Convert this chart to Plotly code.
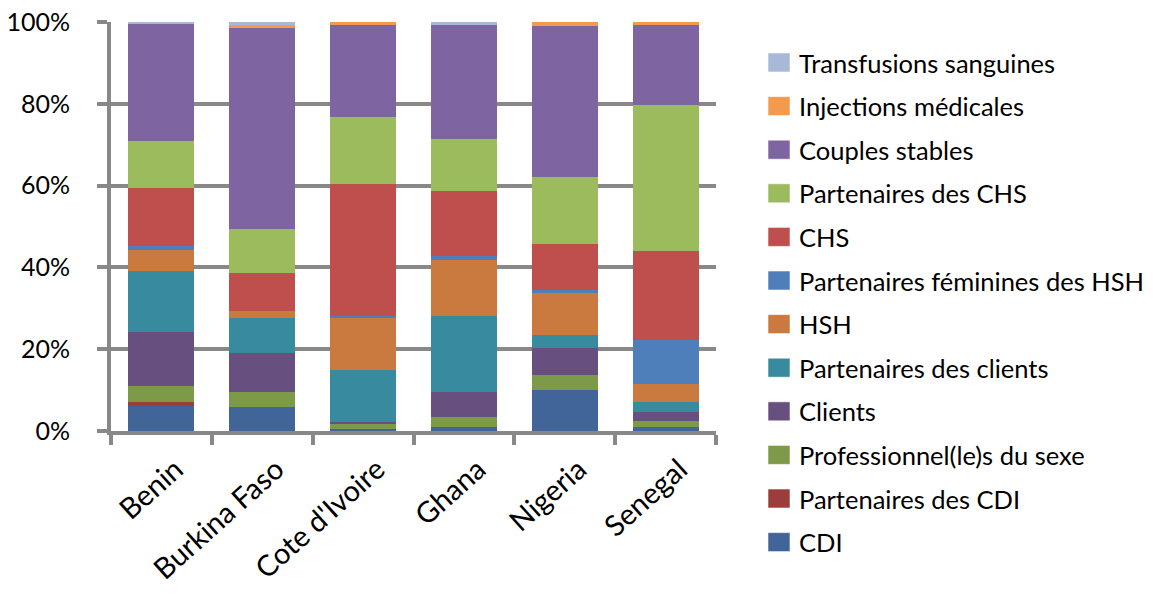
import plotly.graph_objects as go

# Countries on the x axis
countries = ["Benin", "Burkina Faso", "Cote d'Ivoire", "Ghana", "Nigeria", "Senegal"]

# Share of new infections by mode of transmission (%), one list per group
cdi = [6.0, 5.8, 0.5, 1.1, 10.0, 1.1]
partenaires_cdi = [1.0, 0.0, 0.0, 0.0, 0.0, 0.0]
professionnels_sexe = [3.9, 3.7, 1.2, 2.4, 3.7, 1.3]
clients = [13.2, 9.6, 0.6, 6.0, 6.7, 2.3]
partenaires_clients = [15.1, 8.6, 12.7, 18.7, 3.0, 2.3]
hsh = [5.0, 1.7, 12.7, 13.5, 10.3, 4.4]
partenaires_fem_hsh = [1.1, 0.0, 0.5, 1.0, 0.7, 10.9]
chs = [14.0, 9.2, 32.1, 16.0, 11.4, 21.6]
partenaires_chs = [11.5, 10.8, 16.5, 12.6, 16.4, 35.8]
couples_stables = [28.6, 49.1, 22.5, 28.0, 36.8, 19.6]
injections = [0.0, 0.7, 0.7, 0.0, 1.0, 0.7]
transfusions = [0.6, 0.8, 0.0, 0.7, 0.0, 0.0]

# Y axis ticks
y_ticks = [0, 20, 40, 60, 80, 100]
y_tick_labels = ["0%", "20%", "40%", "60%", "80%", "100%"]

# Stack order, bottom to top
series = [
    ("CDI", cdi, "#416599"),
    ("Partenaires des CDI", partenaires_cdi, "#9A3D3B"),
    ("Professionnel(le)s du sexe", professionnels_sexe, "#7D9A48"),
    ("Clients", clients, "#67507F"),
    ("Partenaires des clients", partenaires_clients, "#388A9E"),
    ("HSH", hsh, "#CA7A3E"),
    ("Partenaires féminines des HSH", partenaires_fem_hsh, "#4E7FBA"),
    ("CHS", chs, "#BE4F4C"),
    ("Partenaires des CHS", partenaires_chs, "#9BBB5C"),
    ("Couples stables", couples_stables, "#7E64A0"),
    ("Injections médicales", injections, "#F39A4F"),
    ("Transfusions sanguines", transfusions, "#A8B9D7"),
]

FONT = "Lato, 'Open Sans', sans-serif"
W, H = 1153, 603
ML, MR, MT, MB = 111, 437, 22, 172
PW = W - ML - MR
PH = H - MT - MB

fig = go.Figure()
for name, vals, color in series:
    fig.add_trace(go.Bar(
        x=countries, y=vals, name=name,
        marker=dict(color=color, line=dict(width=0)),
        showlegend=False,
    ))

# Hand-built legend (top entry first), placed in paper coordinates
def px_to_paper_x(px):
    return (px - ML) / PW

def px_to_paper_y(py):
    return 1 - (py - MT) / PH

shapes = []
annotations = []
row0, step = 62.5, 43.6
for i, (name, vals, color) in enumerate(reversed(series)):
    cy = row0 + i * step
    shapes.append(dict(
        type="rect", xref="paper", yref="paper",
        x0=px_to_paper_x(768), x1=px_to_paper_x(790),
        y0=px_to_paper_y(cy + 9.5), y1=px_to_paper_y(cy - 9.5),
        fillcolor=color, line=dict(width=0.8, color="rgba(255,255,255,0.7)"),
    ))
    annotations.append(dict(
        xref="paper", yref="paper",
        x=px_to_paper_x(797), y=px_to_paper_y(cy),
        xanchor="left", yanchor="middle",
        text=name, showarrow=False,
        font=dict(family=FONT, size=25.5, color="#000000"),
    ))

fig.update_layout(
    barmode="stack",
    bargap=0.345,
    width=W, height=H,
    margin=dict(l=ML, r=MR, t=MT, b=MB, pad=0, autoexpand=False),
    paper_bgcolor="white",
    plot_bgcolor="white",
    font=dict(family=FONT, size=24, color="#000000"),
    shapes=shapes,
    annotations=annotations,
)

fig.update_yaxes(
    range=[0, 100],
    tickvals=y_ticks,
    ticktext=y_tick_labels,
    automargin=False,
    showgrid=True, gridcolor="#888888", gridwidth=4,
    showline=True, linecolor="#888888", linewidth=4,
    ticks="outside", ticklen=10, tickwidth=4, tickcolor="#888888",
    ticklabelstandoff=22,
    zeroline=False,
    tickfont=dict(family=FONT, size=25, color="#000000"),
)
fig.update_xaxes(
    automargin=False,
    showline=True, linecolor="#888888", linewidth=4,
    ticks="outside", ticklen=10, tickwidth=4, tickcolor="#888888",
    tickson="boundaries",
    tickangle=-42,
    ticklabelstandoff=6,
    ticklabelshift=14,
    tickfont=dict(family=FONT, size=29, color="#000000"),
)

fig.write_html("out.html")
